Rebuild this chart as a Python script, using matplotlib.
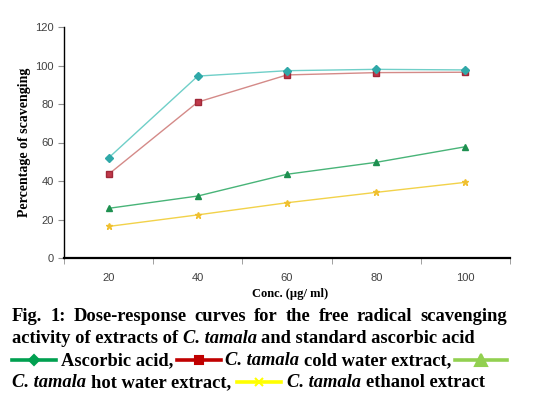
import matplotlib
matplotlib.use('Agg')
import matplotlib.pyplot as plt
from matplotlib.lines import Line2D
import numpy as np

conc = ['20', '40', '60', '80', '100']
ascorbic = [52, 94.5, 97.3, 98, 97.7]
cold_water = [43.5, 81, 95.1, 96.3, 96.5]
hot_water = [25.8, 32.2, 43.5, 49.7, 57.8]
ethanol = [16.4, 22.4, 28.7, 34.1, 39.3]
y_ticks = [0, 20, 40, 60, 80, 100, 120]

W, H = 538, 397
fig = plt.figure(figsize=(W / 100, H / 100), dpi=100)
ax = fig.add_axes([64 / W, 1 - 258 / H, (510 - 64) / W, (258 - 27) / H])

xs = np.arange(len(conc))
ax.plot(xs, ascorbic, color='#6fcfc8', lw=1, marker='D', ms=4,
        mfc='#2fa8a8', mec='#2fa8a8', zorder=4)
ax.plot(xs, cold_water, color='#d48a88', lw=1, marker='s', ms=5,
        mfc='#c0394a', mec='#a02838', zorder=3)
ax.plot(xs, hot_water, color='#48b478', lw=1, marker='^', ms=5,
        mfc='#1e9050', mec='#1e9050', zorder=3)
ax.plot(xs, ethanol, color='#f2d24a', lw=1, marker='*', ms=5,
        mfc='#f0c030', mec='#f0c030', zorder=3)

ax.set_xlim(-0.5, len(conc) - 0.5)
ax.set_ylim(0, 120)
ax.set_yticks(y_ticks)
ax.set_xticks(xs)
ax.set_xticklabels(conc)
ax.set_xticks(np.arange(len(conc) + 1) - 0.5, minor=True)
ax.tick_params(axis='x', which='major', length=0, pad=11,
               labelsize=8, labelcolor='#404040')
ax.tick_params(axis='x', which='minor', length=4, color='#909090')
ax.tick_params(axis='y', length=4, color='#909090', labelsize=8,
               labelcolor='#404040')
for lab in ax.get_xticklabels() + ax.get_yticklabels():
    lab.set_family('Liberation Sans')
for s in ['top', 'right']:
    ax.spines[s].set_visible(False)
ax.spines['left'].set_linewidth(1.0)
ax.spines['bottom'].set_linewidth(1.6)

ax.set_ylabel('Percentage of scavenging', family='Liberation Serif',
              fontweight='bold', fontsize=10, labelpad=3)
fig.text(290 / W, 1 - 294 / H, 'Conc. (µg/ ml)', family='Liberation Serif',
         fontweight='bold', fontsize=9, ha='center', va='center')

# caption, laid out word by word
FS = 13.3
renderer = fig.canvas.get_renderer()


def text_w(s, style):
    t = fig.text(0, 0, s, fontsize=FS, family='Liberation Serif',
                 fontweight='bold', **style)
    w = t.get_window_extent(renderer).width
    t.remove()
    return w


space = text_w('a a', {}) - text_w('aa', {})


def chunk_w(chunk):
    w = 0
    for i, p in enumerate(chunk):
        if i:
            w += space
        if p[0] == 'sym':
            w += p[3]
        else:
            w += text_w(p[1], p[2])
    return w


def draw_chunk(chunk, x, ybase):
    for i, p in enumerate(chunk):
        if i:
            x += space
        if p[0] == 'sym':
            _, col, mk, sw, msz = p
            yy = 1 - (ybase - 5.5) / H
            fig.add_artist(Line2D([x / W, (x + sw) / W], [yy, yy], color=col,
                                  lw=2.6, transform=fig.transFigure))
            fig.add_artist(Line2D([(x + sw / 2) / W], [yy], color=col,
                                  marker=mk, ms=msz, mew=1.5,
                                  transform=fig.transFigure, lw=0))
            x += sw
        else:
            fig.text(x / W, 1 - ybase / H, p[1], fontsize=FS,
                     family='Liberation Serif', fontweight='bold',
                     va='baseline', ha='left', **p[2])
            x += text_w(p[1], p[2])
    return x


def draw_line(chunks, ybase, x0=12, x1=None, gap=None):
    widths = [chunk_w(c) for c in chunks]
    if gap is None:
        if x1 is None or len(chunks) < 2:
            gap = space
        else:
            gap = (x1 - x0 - sum(widths)) / (len(chunks) - 1)
    x = x0
    for c, w in zip(chunks, widths):
        draw_chunk(c, x, ybase)
        x += w + gap


plain = {}
ital = {'style': 'italic'}

line1 = 'Fig. 1: Dose-response curves for the free radical scavenging'.split()
draw_line([[('t', w, plain)] for w in line1], 321, x1=507)

draw_line([[('t', 'activity of extracts of', plain),
            ('t', 'C. tamala', ital),
            ('t', 'and standard ascorbic acid', plain)]], 343)

draw_line([[('sym', '#00a050', 'D', 44, 5), ('t', 'Ascorbic acid,', plain)],
           [('sym', '#c00000', 's', 44, 6), ('t', 'C. tamala', ital),
            ('t', 'cold water extract,', plain)],
           [('sym', '#92d050', '^', 52, 8)]], 365, x1=507)

draw_line([[('t', 'C. tamala', ital), ('t', 'hot water extract,', plain)],
           [('sym', '#ffff00', 'x', 44, 6)],
           [('t', 'C. tamala', ital), ('t', 'ethanol extract', plain)]],
          387, gap=6)

fig.savefig('out.png', dpi=100)
